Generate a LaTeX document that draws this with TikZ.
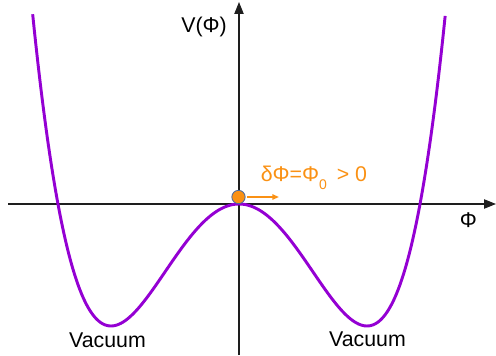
\documentclass[tikz,border=0pt]{standalone}
\usepackage{fontspec}
\setmainfont{Liberation Sans}
\usetikzlibrary{arrows.meta}
\definecolor{curvepurple}{RGB}{148,0,211}
\definecolor{ballorange}{RGB}{250,145,20}
\definecolor{ballblue}{RGB}{70,105,160}
\definecolor{axisgray}{RGB}{30,30,30}
\tikzset{
  axisline/.style={draw=axisgray, line width=0.8pt, -{Triangle[length=9pt,width=7pt]}},
  potential/.style={draw=curvepurple, line width=2.2pt},
  lbl/.style={inner sep=0pt, font=\fontsize{16}{18}\selectfont},
  orangelbl/.style={lbl, text=ballorange},
  ballstyle/.style={circle, minimum size=10pt, inner sep=0pt, fill=ballorange, draw=ballblue, line width=0.6pt},
  pusharrow/.style={draw=ballorange, line width=1.2pt, -{Triangle[length=5pt,width=4pt]}}
}
\begin{document}
\begin{tikzpicture}[x=0.75pt, y=-0.75pt]
\useasboundingbox (0,0) rectangle (496,356);
% axes
\coordinate (xstart) at (8,204);
\coordinate (xend) at (496,204);
\coordinate (ystart) at (239,355);
\coordinate (yend) at (239,2);
\draw[axisline] (xstart) -- (xend);
\draw[axisline] (ystart) -- (yend);
% potential
\draw[potential] plot[domain=-1.612:1.612, samples=201, smooth]
  ({239+128*\x},{204-122*(\x*\x*\x*\x-2*\x*\x)});
% labels
\node[lbl, anchor=base] (vlabel) at (204,33) {V(Φ)};
\node[lbl, anchor=base] (philabel) at (468.5,227) {Φ};
\node[lbl, anchor=base] (vacL) at (107.5,347) {Vacuum};
\node[lbl, anchor=base] (vacR) at (367.5,346) {Vacuum};
\node[orangelbl, anchor=base west] (dphi) at (260.5,181)
  {δΦ=Φ\raisebox{-6pt}{\fontsize{10.5}{12}\selectfont 0}\hspace{3pt} > 0};
% ball and push arrow
\node[ballstyle] (ball) at (238.5,197) {};
\coordinate (pushend) at (279,197);
\draw[pusharrow] (ball.east) ++(1.5,0) -- (pushend);
\end{tikzpicture}
\end{document}
